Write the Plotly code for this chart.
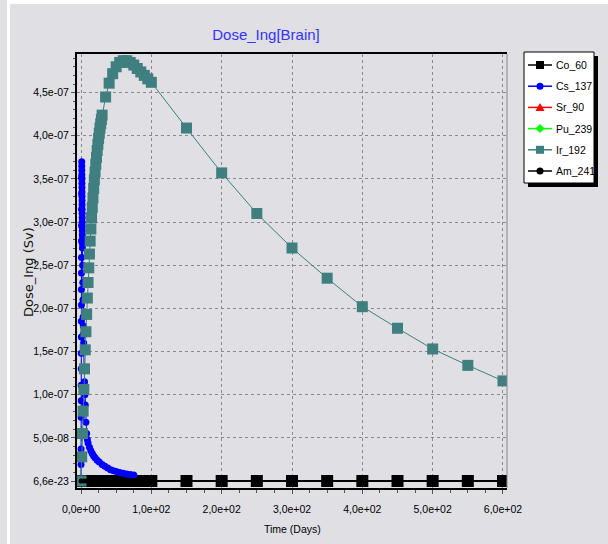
import plotly.graph_objects as go

# ---------------- data ----------------
# Ir_192 (teal squares)
ir_days = [0, 1, 2, 3, 4, 5, 6, 7, 8, 9, 10, 11, 12, 13, 14, 15, 16, 17, 18, 19,
           20, 21, 22, 23, 24, 25, 26, 27, 28, 29, 30, 35, 40, 45, 50, 55, 60, 65,
           70, 75, 80, 85, 90, 95, 100, 150, 200, 250, 300, 350, 400, 450, 500,
           550, 600]
ir_dose = [0.0, 0.28e-7, 0.55e-7, 0.81e-7, 1.06e-7, 1.30e-7, 1.52e-7, 1.73e-7,
           1.93e-7, 2.12e-7, 2.30e-7, 2.47e-7, 2.63e-7, 2.78e-7, 2.92e-7, 3.05e-7,
           3.17e-7, 3.28e-7, 3.39e-7, 3.49e-7, 3.58e-7, 3.67e-7, 3.75e-7, 3.83e-7,
           3.90e-7, 3.97e-7, 4.03e-7, 4.09e-7, 4.14e-7, 4.19e-7, 4.24e-7, 4.45e-7,
           4.61e-7, 4.72e-7, 4.80e-7, 4.85e-7, 4.87e-7, 4.87e-7, 4.85e-7, 4.82e-7,
           4.78e-7, 4.74e-7, 4.70e-7, 4.66e-7, 4.62e-7, 4.09e-7, 3.57e-7, 3.10e-7,
           2.70e-7, 2.35e-7, 2.02e-7, 1.77e-7, 1.53e-7, 1.34e-7, 1.16e-7]

# Cs_137 (blue circles)
cs_days = [0, 0.05, 0.1, 0.15, 0.2, 0.25, 0.3, 0.35, 0.4, 0.45, 0.5, 0.55, 0.6,
           0.65, 0.7, 0.75, 0.8, 0.85, 0.9, 0.95, 1.0, 1.05, 1.1, 1.15, 1.2, 1.25,
           1.3, 1.35, 1.4, 1.45, 1.5, 1.55, 1.6, 1.65, 1.7, 1.75, 1.8, 1.85, 1.9,
           1.95, 2.0, 2.25, 2.5, 2.75, 3, 3.25, 3.5, 3.75, 4, 4.5, 5, 5.5, 6, 7, 8,
           9, 10, 12, 14, 16, 18, 20, 23, 26, 30, 34, 38, 42, 46, 50, 55, 60, 65,
           70, 75]
cs_dose = [0.0, 0.19e-7, 0.37e-7, 0.56e-7, 0.74e-7, 0.93e-7, 1.11e-7, 1.30e-7,
           1.48e-7, 1.67e-7, 1.85e-7, 2.04e-7, 2.22e-7, 2.41e-7, 2.59e-7, 2.78e-7,
           2.96e-7, 3.15e-7, 3.33e-7, 3.52e-7, 3.70e-7, 3.65e-7, 3.60e-7, 3.55e-7,
           3.50e-7, 3.45e-7, 3.40e-7, 3.35e-7, 3.30e-7, 3.25e-7, 3.20e-7, 3.15e-7,
           3.10e-7, 3.05e-7, 3.00e-7, 2.95e-7, 2.90e-7, 2.85e-7, 2.80e-7, 2.75e-7,
           2.70e-7, 2.50e-7, 2.30e-7, 2.10e-7, 1.90e-7, 1.80e-7, 1.70e-7, 1.60e-7,
           1.50e-7, 1.30e-7, 1.15e-7, 1.00e-7, 0.88e-7, 0.68e-7, 0.55e-7, 0.48e-7,
           0.44e-7, 0.39e-7, 0.35e-7, 0.32e-7, 0.29e-7, 0.27e-7, 0.24e-7, 0.22e-7,
           0.19e-7, 0.17e-7, 0.15e-7, 0.13e-7, 0.12e-7, 0.11e-7, 0.10e-7, 0.09e-7,
           0.08e-7, 0.075e-7, 0.07e-7]

# Co_60, Sr_90, Pu_239, Am_241 (all near zero)
low_days = [0, 4, 8, 12, 16, 20, 24, 28, 32, 36, 40, 44, 48, 52, 56, 60, 64, 68,
            72, 76, 80, 84, 88, 92, 96, 100, 150, 200, 250, 300, 350, 400, 450,
            500, 550, 600]
co_dose = [6.6e-23, 6.6e-23, 6.6e-23, 6.6e-23, 6.6e-23, 6.6e-23, 6.6e-23, 6.6e-23,
           6.6e-23, 6.6e-23, 6.6e-23, 6.6e-23, 6.6e-23, 6.6e-23, 6.6e-23, 6.6e-23,
           6.6e-23, 6.6e-23, 6.6e-23, 6.6e-23, 6.6e-23, 6.6e-23, 6.6e-23, 6.6e-23,
           6.6e-23, 6.6e-23, 6.6e-23, 6.6e-23, 6.6e-23, 6.6e-23, 6.6e-23, 6.6e-23,
           6.6e-23, 6.6e-23, 6.6e-23, 6.6e-23]
sr_dose = [6.6e-23, 6.6e-23, 6.6e-23, 6.6e-23, 6.6e-23, 6.6e-23, 6.6e-23, 6.6e-23,
           6.6e-23, 6.6e-23, 6.6e-23, 6.6e-23, 6.6e-23, 6.6e-23, 6.6e-23, 6.6e-23,
           6.6e-23, 6.6e-23, 6.6e-23, 6.6e-23, 6.6e-23, 6.6e-23, 6.6e-23, 6.6e-23,
           6.6e-23, 6.6e-23, 6.6e-23, 6.6e-23, 6.6e-23, 6.6e-23, 6.6e-23, 6.6e-23,
           6.6e-23, 6.6e-23, 6.6e-23, 6.6e-23]
pu_dose = [6.6e-23, 6.6e-23, 6.6e-23, 6.6e-23, 6.6e-23, 6.6e-23, 6.6e-23, 6.6e-23,
           6.6e-23, 6.6e-23, 6.6e-23, 6.6e-23, 6.6e-23, 6.6e-23, 6.6e-23, 6.6e-23,
           6.6e-23, 6.6e-23, 6.6e-23, 6.6e-23, 6.6e-23, 6.6e-23, 6.6e-23, 6.6e-23,
           6.6e-23, 6.6e-23, 6.6e-23, 6.6e-23, 6.6e-23, 6.6e-23, 6.6e-23, 6.6e-23,
           6.6e-23, 6.6e-23, 6.6e-23, 6.6e-23]
am_dose = [6.6e-23, 6.6e-23, 6.6e-23, 6.6e-23, 6.6e-23, 6.6e-23, 6.6e-23, 6.6e-23,
           6.6e-23, 6.6e-23, 6.6e-23, 6.6e-23, 6.6e-23, 6.6e-23, 6.6e-23, 6.6e-23,
           6.6e-23, 6.6e-23, 6.6e-23, 6.6e-23, 6.6e-23, 6.6e-23, 6.6e-23, 6.6e-23,
           6.6e-23, 6.6e-23, 6.6e-23, 6.6e-23, 6.6e-23, 6.6e-23, 6.6e-23, 6.6e-23,
           6.6e-23, 6.6e-23, 6.6e-23, 6.6e-23]

x_tickvals = [0, 100, 200, 300, 400, 500, 600]
x_ticktext = ["0,0e+00", "1,0e+02", "2,0e+02", "3,0e+02", "4,0e+02", "5,0e+02", "6,0e+02"]
y_tickvals = [6.6e-23, 0.5e-7, 1.0e-7, 1.5e-7, 2.0e-7, 2.5e-7, 3.0e-7, 3.5e-7, 4.0e-7, 4.5e-7]
y_ticktext = ["6,6e-23", "5,0e-08", "1,0e-07", "1,5e-07", "2,0e-07", "2,5e-07",
              "3,0e-07", "3,5e-07", "4,0e-07", "4,5e-07"]

# ---------------- layout geometry ----------------
W, H = 608, 544
L, R, T, B = 77, 101, 54, 56
PW, PH = W - L - R, H - T - B


def px2x(px):
    return (px - L) / PW


def py2y(py):
    return (H - B - py) / PH


BG = "#dfdfe4"
TEAL = "#3f7f7f"
SANS = "Liberation Sans, Arial, sans-serif"

fig = go.Figure()

# legend order of the key box
series = [
    ("Co_60", low_days, co_dose, "black", "square", 12, 2),
    ("Cs_137", cs_days, cs_dose, "#0000ff", "circle", 7, 1),
    ("Sr_90", low_days, sr_dose, "#ff0000", "triangle-up", 4, 1),
    ("Pu_239", low_days, pu_dose, "#00ff00", "diamond", 4, 1),
    ("Ir_192", ir_days, ir_dose, TEAL, "square", 11, 1),
    ("Am_241", low_days, am_dose, "black", "circle", 5, 1),
]
# drawing order: near-zero coloured series underneath the black ones
draw_order = [2, 3, 0, 1, 4, 5]
for idx in draw_order:
    name, xs, ys, col, sym, size, lw = series[idx]
    fig.add_trace(go.Scatter(
        x=xs, y=ys, name=name, mode="lines+markers",
        line=dict(color=col, width=lw),
        marker=dict(color=col, symbol=sym, size=size, line=dict(width=0)),
    ))

fig.update_layout(
    width=W, height=H,
    margin=dict(l=L, r=R, t=T, b=B, autoexpand=False),
    paper_bgcolor=BG, plot_bgcolor=BG,
    font=dict(family=SANS, size=10, color="black"),
    title=dict(text="Dose_Ing[Brain]", x=266 / W, xref="container", xanchor="center",
               y=1 - 35 / H, yref="container", yanchor="middle",
               font=dict(family=SANS, size=15, color="#3333ff")),
    showlegend=False,
    xaxis=dict(range=[-5.7, 605.7], tickmode="array", tickvals=x_tickvals,
               ticktext=x_ticktext, ticks="outside", ticklen=4, tickcolor="#555",
               tickfont=dict(family=SANS, size=10.5),
               showgrid=True, gridcolor="#8a8a8a", griddash="3px,3px", gridwidth=1,
               showline=True, linecolor="black", linewidth=2, mirror=True,
               zeroline=False, ticklabelstandoff=6,
               minor=dict(tickmode="array", tickvals=list(range(25, 600, 25)),
                          ticks="outside", ticklen=3, tickcolor="#555", showgrid=False)),
    yaxis=dict(range=[-0.081e-7, 4.948e-7], tickmode="array", tickvals=y_tickvals,
               ticktext=y_ticktext, ticks="outside", ticklen=4, tickcolor="#555",
               tickfont=dict(family=SANS, size=10.5),
               showgrid=True, gridcolor="#8a8a8a", griddash="3px,3px", gridwidth=1,
               showline=True, linecolor="black", linewidth=2, mirror=False,
               zeroline=False,
               minor=dict(tickmode="linear", tick0=0, dtick=1e-8,
                          ticks="outside", ticklen=2, tickcolor="#555", showgrid=False)),
)


def prect(x0, y0, x1, y1, **kw):
    return dict(type="rect", xref="paper", yref="paper",
                x0=px2x(x0), x1=px2x(x1), y0=py2y(y1), y1=py2y(y0), **kw)


shapes = [
    # right frame edge (gray)
    dict(type="line", xref="paper", yref="paper", x0=1, x1=1, y0=0, y1=1,
         line=dict(color="#8a8a8a", width=1), layer="above"),
    # white border strips of the original window
    prect(7, 0, 10, H, fillcolor="white", line=dict(width=0), layer="below"),
    prect(7, 0, W, 4, fillcolor="white", line=dict(width=0), layer="below"),
    # legend shadow and box
    prect(528, 56, 598, 187, fillcolor="black", line=dict(width=0), layer="above"),
    prect(524, 52, 594, 183, fillcolor="white", line=dict(color="black", width=1),
          layer="above"),
]

# legend entries (pixel layout of the key box)
LEG_Y0, LEG_DY = 65, 21.2
LX0, LX1, LXC = 528, 552, 540
for i, (name, xs, ys, col, sym, size, lw) in enumerate(series):
    cy = LEG_Y0 + i * LEG_DY
    shapes.append(dict(type="line", xref="paper", yref="paper",
                       x0=px2x(LX0), x1=px2x(LX1), y0=py2y(cy), y1=py2y(cy),
                       line=dict(color=col, width=1.5), layer="above"))
    if sym == "square":
        shapes.append(prect(LXC - 4, cy - 4, LXC + 4, cy + 4, fillcolor=col,
                            line=dict(width=0), layer="above"))
    elif sym == "circle":
        shapes.append(dict(type="circle", xref="paper", yref="paper",
                           x0=px2x(LXC - 3.5), x1=px2x(LXC + 3.5),
                           y0=py2y(cy + 3.5), y1=py2y(cy - 3.5),
                           fillcolor=col, line=dict(width=0), layer="above"))
    elif sym == "triangle-up":
        path = "M {} {} L {} {} L {} {} Z".format(
            px2x(LXC), py2y(cy - 4.5), px2x(LXC - 4.5), py2y(cy + 3.5),
            px2x(LXC + 4.5), py2y(cy + 3.5))
        shapes.append(dict(type="path", xref="paper", yref="paper", path=path,
                           fillcolor=col, line=dict(width=0), layer="above"))
    elif sym == "diamond":
        path = "M {} {} L {} {} L {} {} L {} {} Z".format(
            px2x(LXC), py2y(cy - 4.5), px2x(LXC + 4.5), py2y(cy),
            px2x(LXC), py2y(cy + 4.5), px2x(LXC - 4.5), py2y(cy))
        shapes.append(dict(type="path", xref="paper", yref="paper", path=path,
                           fillcolor=col, line=dict(width=0), layer="above"))
    fig.add_annotation(text=name, xref="paper", yref="paper",
                       x=px2x(554), y=py2y(cy), showarrow=False,
                       xanchor="left", yanchor="middle",
                       font=dict(family=SANS, size=10.5, color="black"))

fig.update_layout(shapes=shapes)

fig.add_annotation(text="Time (Days)", xref="paper", yref="paper",
                   x=px2x(292), y=py2y(529), showarrow=False,
                   xanchor="center", yanchor="middle",
                   font=dict(family=SANS, size=10.5, color="black"))
fig.add_annotation(text="Dose_Ing (Sv)", xref="paper", yref="paper",
                   x=px2x(28), y=py2y(272), showarrow=False, textangle=-90,
                   xanchor="center", yanchor="middle",
                   font=dict(family="DejaVu Sans, Verdana, sans-serif", size=13,
                             color="#111111"))

fig.write_html("out.html")
